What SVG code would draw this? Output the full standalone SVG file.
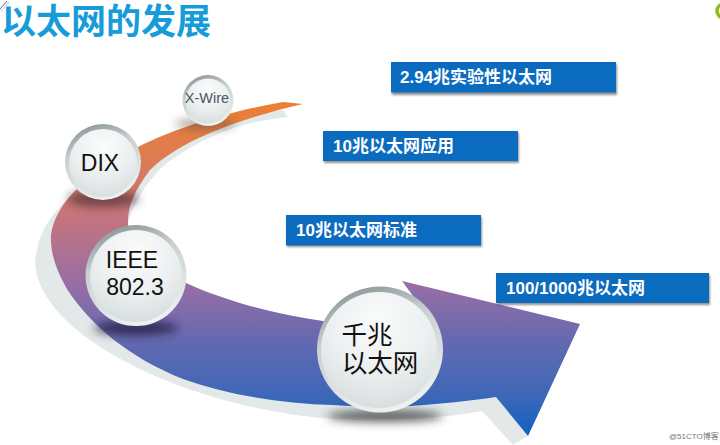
<svg xmlns="http://www.w3.org/2000/svg" width="720" height="445" viewBox="0 0 720 445">
<style>
.box{fill:#0a6bbf}
.bs{fill:#555;opacity:.65;filter:url(#b2)}
.bt{font:bold 17px "Liberation Sans","Noto Sans CJK SC",sans-serif;fill:#fff}
.st{font-family:"Liberation Sans","Noto Sans CJK SC",sans-serif;fill:#111;text-anchor:middle}
.rim{fill:url(#rim)}
.face{fill:url(#face)}
</style>
<defs>
<linearGradient id="band" gradientUnits="userSpaceOnUse" x1="0" y1="100" x2="0" y2="436">
<stop offset="0" stop-color="#ec7f30"/>
<stop offset=".16" stop-color="#de7c50"/>
<stop offset=".34" stop-color="#c7747c"/>
<stop offset=".56" stop-color="#946ea6"/>
<stop offset=".72" stop-color="#6369b1"/>
<stop offset=".88" stop-color="#3d67b8"/>
<stop offset="1" stop-color="#0f62c0"/>
</linearGradient>
<linearGradient id="rim" x1=".25" y1="0" x2=".6" y2="1">
<stop offset="0" stop-color="#8b9496"/>
<stop offset=".35" stop-color="#c8d0d0"/>
<stop offset="1" stop-color="#eef2f2"/>
</linearGradient>
<radialGradient id="face" cx=".5" cy=".25" r=".8">
<stop offset="0" stop-color="#fbfcfc"/>
<stop offset=".55" stop-color="#eceff0"/>
<stop offset="1" stop-color="#d5dcdc"/>
</radialGradient>
<filter id="b2" x="-10%" y="-30%" width="120%" height="160%"><feGaussianBlur stdDeviation="1.2"/></filter>
<filter id="b6" x="-30%" y="-100%" width="160%" height="300%"><feGaussianBlur stdDeviation="5"/></filter>
</defs>

<g id="title"><text x="1" y="34" style="font:bold 35px 'Noto Sans CJK SC',sans-serif;fill:#169cd8">以太网的发展</text></g>
<g id="corner-mark"><path d="M0,9 L7,1" stroke="#5b6f9a" stroke-width="1" fill="none"/><path d="M1,11 L9,2" stroke="#b9c4d6" stroke-width="1" fill="none"/></g>
<circle id="green-mark" cx="724" cy="11" r="7" fill="none" stroke="#8fbc1e" stroke-width="3.500"/>

<g id="arrow">
<path fill="#e3e9e9" d="M288,117 C262,120 245,124 233,128 C205,138 185,150 167,163 C150,177 135,200 128,222 L120,300 L333,405 L410,406 L496,397 L528,436 L513,445 L482,411 C430,420 380,421 333,419 C250,413 150,385 83,335 C45,305 30,275 37,250 C40,232 50,215 70,197 C130,150 220,115 283,110Z"/>
<path fill="url(#band)" d="M303,104 L283,102 C230,111 175,128 138,147 C100,167 50,200 51,242 C52,262 62,280 67,289 C90,325 130,358 183,379 C225,394 280,404 333,405 C360,407 390,407 410,406 C440,404 470,401 496,397 L528,436 L580,324 L402,281 L432,322 C395,326 355,325 323,321 C275,314 225,301 186,283 C155,268 128,250 128,222 C128,205 135,190 150,170 C175,145 225,122 303,104Z"/>
</g>

<g id="connector-shadows">
<ellipse cx="205" cy="124" rx="30" ry="5" fill="#5a4a40" opacity=".55" filter="url(#b6)"/>
<ellipse cx="103" cy="199" rx="36" ry="8" fill="#4a3038" opacity=".7" filter="url(#b6)"/>
<ellipse cx="136" cy="328" rx="42" ry="7" fill="#201c40" opacity=".8" filter="url(#b6)"/>
<ellipse cx="385" cy="416" rx="58" ry="6" fill="#2a2e2e" opacity=".75" filter="url(#b6)"/>
</g>

<g id="node-xwire">
<circle class="rim" cx="208" cy="100.500" r="25.500"/><circle class="face" cx="208" cy="101" r="22.500"/>
<text class="st" x="207" y="103" font-size="14.500" style="fill:#4a5564">X-Wire</text>
</g>
<g id="node-dix">
<circle class="rim" cx="103" cy="162" r="38"/><circle class="face" cx="103" cy="163" r="34"/>
<text class="st" x="100" y="171" font-size="23">DIX</text>
</g>
<g id="node-ieee">
<circle class="rim" cx="136" cy="275.500" r="50.500"/><circle class="face" cx="136" cy="276" r="46"/>
<text class="st" font-size="23"><tspan x="132" y="268">IEEE</tspan><tspan x="135" y="295">802.3</tspan></text>
</g>
<g id="node-gigabit">
<circle class="rim" cx="380" cy="349.500" r="63"/><circle class="face" cx="379" cy="350" r="58"/>
<text class="st" font-size="25.500" style="font-family:'Noto Sans CJK SC',sans-serif"><tspan x="367" y="344">千兆</tspan><tspan x="380" y="372">以太网</tspan></text>
</g>

<g id="box-294"><rect class="bs" x="392" y="64" width="225" height="31"/><rect class="box" x="391" y="62" width="225" height="30.500"/><text class="bt" x="400" y="83">2.94兆实验性以太网</text></g>
<g id="box-10app"><rect class="bs" x="324" y="133" width="195" height="30"/><rect class="box" x="323" y="131" width="195" height="30"/><text class="bt" x="333" y="152">10兆以太网应用</text></g>
<g id="box-10std"><rect class="bs" x="287" y="217" width="195" height="30"/><rect class="box" x="286" y="215" width="195" height="30.500"/><text class="bt" x="296" y="236">10兆以太网标准</text></g>
<g id="box-1000"><rect class="bs" x="497" y="275" width="213" height="30"/><rect class="box" x="496" y="273" width="213" height="30"/><text class="bt" x="506" y="294">100/1000兆以太网</text></g>

<text id="watermark" x="669" y="439" style="font:8px 'Liberation Sans','Noto Sans CJK SC',sans-serif;fill:#777">@51CTO博客</text>
</svg>
